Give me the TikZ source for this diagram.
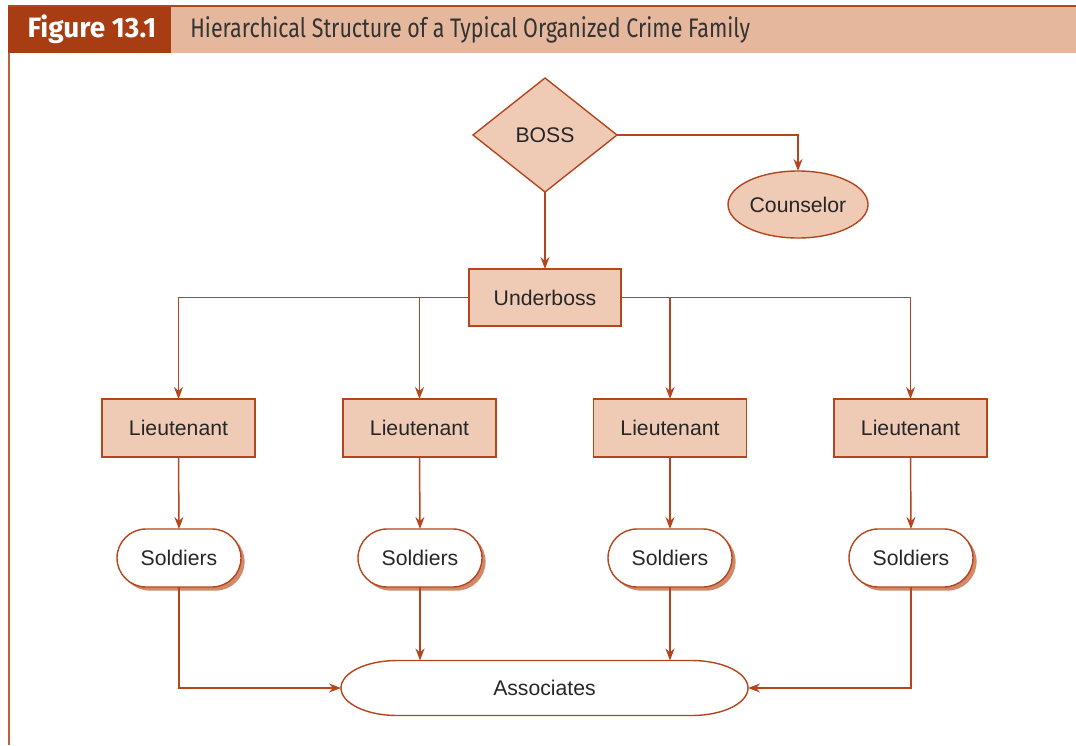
\documentclass[tikz,border=0pt]{standalone}
\usepackage{fontspec}
\setmainfont{Liberation Sans}
\newfontfamily\headfont[FakeStretch=0.8]{Fira Sans}
\newfontfamily\numfont{Fira Sans}
\usetikzlibrary{arrows.meta,calc,shapes.geometric,shapes.misc,shadows}
\definecolor{figred}{HTML}{A83C12}
\definecolor{headbg}{HTML}{E5B89E}
\definecolor{boxfill}{HTML}{EFCBB6}
\definecolor{edgec}{HTML}{B3461C}
\definecolor{shadowc}{HTML}{D4886A}
\tikzset{
	boxtxt/.style={font=\fontsize{10.6}{12}\selectfont, text=black!85, inner sep=0pt, outer sep=0pt},
	rankbox/.style={boxtxt, rectangle, draw=edgec, line width=0.7pt, fill=boxfill, minimum width=76.5pt, minimum height=29pt},
	bossbox/.style={boxtxt, diamond, draw=edgec, line width=0.7pt, fill=boxfill, aspect=1.26, minimum width=72pt, minimum height=57pt},
	counselbox/.style={boxtxt, ellipse, draw=edgec, line width=0.7pt, fill=boxfill, minimum width=70pt, minimum height=33.5pt},
	soldierbox/.style={boxtxt, rounded rectangle, draw=edgec, line width=0.7pt, fill=white, minimum width=62pt, minimum height=29pt,
		drop shadow={shadow xshift=1.8pt, shadow yshift=-1.8pt, fill=shadowc, opacity=1}},
	link/.style={draw=edgec, line width=0.75pt, -{Stealth[length=6pt,width=4.5pt]}},
}

\begin{document}
\begin{tikzpicture}[x=0.5pt,y=-0.5pt]
			%%%%% START %%%%%
			\useasboundingbox (0,0) rectangle (1076,745);
			
			% header
			\fill[headbg] (171,6) rectangle (1076,53);
			\fill[figred] (8,6) rectangle (171,53);
			\draw[edgec, line width=0.6pt] (8,6) -- (1076,6);
			\draw[edgec!85, line width=1pt] (9,53) -- (9,745);
			\node[font=\numfont\bfseries\fontsize{14}{16}\selectfont, text=white, inner sep=0pt] (fignum) at (92,29.5) {Figure 13.1};
			\node[font=\headfont\fontsize{13.4}{15}\selectfont, text=black!80, anchor=west, inner sep=0pt] (figtitle) at (190,29.5) {Hierarchical Structure of a Typical Organized Crime Family};
			
			% family
			\node[bossbox] (boss) at (545,135) {BOSS};
			\node[counselbox] (couns) at (798,204.5) {Counselor};
			\node[rankbox, minimum width=76pt, minimum height=28.5pt] (ub) at (545,297.5) {Underboss};
			
			\node[rankbox] (lt1) at (178.5,428) {Lieutenant};
			\node[rankbox] (lt2) at (419.5,428) {Lieutenant};
			\node[rankbox] (lt3) at (670,428) {Lieutenant};
			\node[rankbox] (lt4) at (910.5,428) {Lieutenant};
			
			\node[soldierbox] (s1) at (179,558) {Soldiers};
			\node[soldierbox] (s2) at (420,558) {Soldiers};
			\node[soldierbox] (s3) at (670,558) {Soldiers};
			\node[soldierbox] (s4) at (911,558) {Soldiers};
			
			% associates: flat ends
			\node[boxtxt, rectangle, minimum width=203.5pt, minimum height=27.5pt] (assoc) at (544.5,688) {};
			\fill[shadowc, shift={(1.8pt,-1.8pt)}] ($(assoc.north west)+(28pt,0)$) -- ($(assoc.north east)+(-28pt,0)$)
				arc[start angle=90, end angle=-90, x radius=28pt, y radius=13.75pt] -- ($(assoc.south west)+(28pt,0)$)
				arc[start angle=270, end angle=90, x radius=28pt, y radius=13.75pt] -- cycle;
			\draw[edgec, line width=0.7pt, fill=white] ($(assoc.north west)+(28pt,0)$) -- ($(assoc.north east)+(-28pt,0)$)
				arc[start angle=90, end angle=-90, x radius=28pt, y radius=13.75pt] -- ($(assoc.south west)+(28pt,0)$)
				arc[start angle=270, end angle=90, x radius=28pt, y radius=13.75pt] -- cycle;
			\node[boxtxt] (assoctxt) at (assoc.center) {Associates};
			
			% connectors
			\draw[link] (boss.east) -| (couns.north);
			\draw[link] (boss.south) -- (ub.north);
			\draw[link] (ub.west) -| (lt1.north);
			\draw[link] (ub.east) -| (lt4.north);
			\draw[link] (ub.west -| lt2.north) -- (lt2.north);
			\draw[link] (ub.east -| lt3.north) -- (lt3.north);
			
			\draw[link] (lt1.south) -- (s1.north);
			\draw[link] (lt2.south) -- (s2.north);
			\draw[link] (lt3.south) -- (s3.north);
			\draw[link] (lt4.south) -- (s4.north);
			
			\draw[link] (s1.south) |- (assoc.west);
			\draw[link] (s4.south) |- (assoc.east);
			\draw[link] (s2.south) -- (s2.south |- assoc.north);
			\draw[link] (s3.south) -- (s3.south |- assoc.north);
			%%%%% END %%%%%
\end{tikzpicture}
\end{document}
